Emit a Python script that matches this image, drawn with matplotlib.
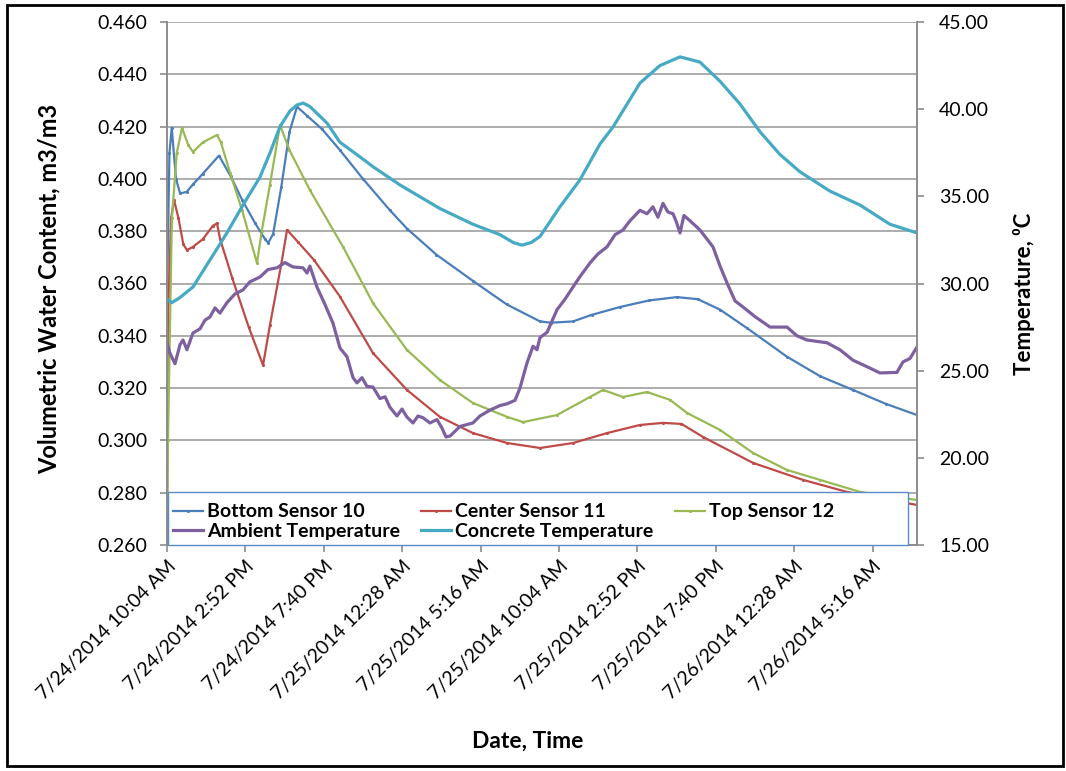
import matplotlib
matplotlib.use('Agg')
import matplotlib.pyplot as plt
import matplotlib.patches as patches
from matplotlib.ticker import FormatStrFormatter, MultipleLocator
from datetime import datetime, timedelta
import numpy as np

plt.rcParams['font.family'] = ['Lato', 'DejaVu Sans']

start = datetime(2014, 7, 24, 10, 4)

# elapsed hours since start / sensor readings (m3/m3)
bottom_h = [0, 0.15, 0.29, 0.55, 0.8, 1.2, 1.6, 2.2, 3.18, 3.9, 4.6, 5.4, 6.0, 6.2, 6.5, 7.0, 7.5, 7.96,
            8.6, 9.5, 10.59, 12.0, 13.65, 14.69, 16.5, 18.73, 20.8, 22.84, 23.5, 24.86, 26.0, 27.73,
            29.5, 31.22, 32.5, 33.86, 35.5, 37.96, 40.0, 42.0, 44.0, 45.92]
bottom_v = [0.355, 0.410, 0.4195, 0.400, 0.3945, 0.395, 0.398, 0.402, 0.4089, 0.401, 0.392, 0.383, 0.377,
            0.3755, 0.379, 0.397, 0.418, 0.4276, 0.424, 0.419, 0.411, 0.400, 0.388, 0.381, 0.371, 0.361,
            0.352, 0.3455, 0.345, 0.3455, 0.348, 0.351, 0.3535, 0.3548, 0.354, 0.350, 0.343, 0.332,
            0.3245, 0.3193, 0.314, 0.3097]

center_h = [0, 0.06, 0.25, 0.43, 0.7, 1.0, 1.22, 1.59, 2.2, 2.8, 3.06, 3.25, 4.0, 5.0, 5.88, 6.3, 7.0,
            7.35, 8.0, 9.0, 10.59, 12.61, 14.69, 16.71, 18.73, 20.82, 22.84, 24.86, 26.94, 28.96,
            30.37, 31.5, 32.82, 35.88, 38.94, 41.63, 45.92]
center_v = [0.262, 0.346, 0.385, 0.392, 0.385, 0.375, 0.3728, 0.374, 0.377, 0.382, 0.383, 0.377, 0.362,
            0.3434, 0.3288, 0.344, 0.3675, 0.3805, 0.376, 0.369, 0.355, 0.3334, 0.3193, 0.309, 0.3028,
            0.299, 0.2971, 0.299, 0.3028, 0.3059, 0.3067, 0.3063, 0.3013, 0.2914, 0.2849, 0.2803, 0.2753]

top_h = [0, 0.06, 0.3, 0.6, 0.92, 1.3, 1.59, 2.2, 3.06, 3.3, 3.86, 4.6, 5.51, 5.8, 6.3, 6.92, 7.5, 8.75,
         10.78, 12.61, 14.69, 16.71, 18.73, 20.82, 21.8, 23.88, 25.9, 26.69, 27.92, 29.39, 30.8, 31.84,
         33.86, 35.88, 37.96, 39.98, 42.43, 45.92]
top_v = [0.262, 0.300, 0.385, 0.410, 0.4195, 0.413, 0.4103, 0.414, 0.4168, 0.414, 0.4023, 0.388, 0.3678,
         0.380, 0.3977, 0.4206, 0.411, 0.3957, 0.374, 0.3525, 0.3346, 0.3231, 0.3143, 0.309, 0.307,
         0.3097, 0.3166, 0.3193, 0.3166, 0.3185, 0.3155, 0.3105, 0.304, 0.2952, 0.2887, 0.2849, 0.2803,
         0.2772]

# temperatures (deg C)
ambient_h = [0, 0.18, 0.49, 0.80, 0.98, 1.22, 1.59, 2.02, 2.33, 2.63, 2.94, 3.24, 3.67, 4.16, 4.65, 5.08,
             5.69, 6.18, 6.73, 7.22, 7.71, 8.33, 8.57, 8.75, 9.18, 9.67, 10.16, 10.59, 11.02, 11.39,
             11.63, 11.94, 12.24, 12.61, 13.04, 13.35, 13.65, 14.08, 14.39, 14.69, 15.06, 15.37, 15.67,
             16.10, 16.53, 16.84, 17.08, 17.33, 17.94, 18.73, 19.16, 19.78, 20.39, 20.82, 21.31, 21.61,
             22.04, 22.41, 22.65, 22.84, 23.27, 23.88, 24.37, 24.86, 25.29, 25.90, 26.39, 26.94, 27.43,
             27.92, 28.35, 28.96, 29.39, 29.75, 30.06, 30.37, 30.67, 30.98, 31.16, 31.41, 31.65, 32.02,
             32.63, 33.43, 33.86, 34.29, 34.78, 35.27, 36.00, 36.92, 37.96, 38.57, 39.18, 40.41, 41.20,
             42.00, 42.92, 43.65, 44.69, 45.06, 45.49, 45.92]
ambient_t = [26.6, 26.0, 25.4, 26.5, 26.76, 26.2, 27.16, 27.4, 27.9, 28.08, 28.6, 28.3, 28.9, 29.4, 29.63,
             30.1, 30.37, 30.8, 30.9, 31.2, 30.95, 30.9, 30.6, 31.0, 29.8, 28.8, 27.73, 26.3, 25.8, 24.6,
             24.3, 24.6, 24.1, 24.06, 23.4, 23.5, 22.9, 22.4, 22.8, 22.34, 22.0, 22.4, 22.3, 22.0, 22.2,
             21.7, 21.2, 21.25, 21.8, 22.0, 22.4, 22.74, 23.0, 23.1, 23.3, 24.0, 25.44, 26.4, 26.2, 26.9,
             27.2, 28.5, 29.1, 29.8, 30.4, 31.18, 31.7, 32.1, 32.8, 33.07, 33.6, 34.2, 34.0, 34.4, 33.8,
             34.6, 34.1, 34.0, 33.6, 32.9, 33.9, 33.6, 33.07, 32.1, 31.0, 30.03, 29.0, 28.65, 28.1, 27.5,
             27.5, 27.0, 26.76, 26.6, 26.2, 25.6, 25.2, 24.87, 24.9, 25.5, 25.7, 26.36]

concrete_h = [0, 0.3, 0.8, 1.59, 2.63, 3.67, 4.65, 5.69, 6.31, 6.92, 7.53, 7.96, 8.33, 8.75, 9.8, 10.59,
              11.82, 12.61, 14.27, 16.71, 18.73, 20.39, 21.2, 21.73, 22.3, 22.84, 24.06, 25.28, 26.51,
              27.31, 28.96, 30.18, 31.41, 32.63, 33.86, 35.08, 36.31, 37.53, 38.76, 40.59, 42.43, 44.26,
              45.92]
concrete_t = [29.1, 28.9, 29.2, 29.8, 31.35, 32.9, 34.5, 36.1, 37.5, 39.0, 39.9, 40.24, 40.35, 40.15, 39.2,
              38.1, 37.26, 36.7, 35.65, 34.3, 33.4, 32.8, 32.35, 32.2, 32.35, 32.7, 34.4, 35.94, 38.0,
              38.98, 41.5, 42.5, 43.0, 42.7, 41.6, 40.3, 38.7, 37.4, 36.4, 35.3, 34.5, 33.4, 32.9]

tick_hours = np.arange(0, 46, 4.8)


def fmt_time(h):
    d = start + timedelta(hours=float(h))
    hr = d.hour % 12 or 12
    ampm = 'AM' if d.hour < 12 else 'PM'
    return f'{d.month}/{d.day}/{d.year} {hr}:{d.minute:02d} {ampm}'


fig = plt.figure(figsize=(10.66, 7.71), dpi=100)
ax = fig.add_axes([167 / 1066, 1 - 545 / 771, 750 / 1066, 523 / 771])
ax2 = ax.twinx()

grey = '#8C8C8C'
l_bot, = ax.plot(bottom_h, bottom_v, color='#4A7EBB', lw=1.6, marker='.', ms=2.5, label='Bottom Sensor 10')
l_cen, = ax.plot(center_h, center_v, color='#BE4B48', lw=1.6, marker='.', ms=2.5, label='Center Sensor 11')
l_top, = ax.plot(top_h, top_v, color='#98B954', lw=1.6, marker='.', ms=2.5, label='Top Sensor 12')
l_amb, = ax2.plot(ambient_h, ambient_t, color='#7D60A0', lw=2.3, label='Ambient Temperature')
l_con, = ax2.plot(concrete_h, concrete_t, color='#46AAC5', lw=2.3, label='Concrete Temperature')

ax.set_xlim(0, 45.92)
ax.set_ylim(0.26, 0.46)
ax.yaxis.set_major_locator(MultipleLocator(0.02))
ax.yaxis.set_major_formatter(FormatStrFormatter('%.3f'))
ax2.set_ylim(15, 45)
ax2.yaxis.set_major_locator(MultipleLocator(5))
ax2.yaxis.set_major_formatter(FormatStrFormatter('%.2f'))

ax.set_xticks(tick_hours)
ax.set_xticklabels([fmt_time(h) for h in tick_hours], rotation=45, ha='right',
                   rotation_mode='anchor', fontsize=14)

ax.yaxis.grid(True, color='#A6A6A6', lw=1.3)
ax.set_axisbelow(True)

for a in (ax, ax2):
    a.spines['top'].set_visible(False)
    for s in ('left', 'right', 'bottom'):
        a.spines[s].set_color(grey)
        a.spines[s].set_linewidth(1.2)
    a.tick_params(axis='both', direction='out', length=5, width=1.2, color=grey, labelsize=14,
                  labelcolor='black')
ax.tick_params(axis='x', pad=4)
ax.tick_params(axis='y', pad=9)
ax2.tick_params(axis='y', pad=11)

ax.set_ylabel('Volumetric Water Content, m3/m3', fontsize=17, fontweight='bold')
ax.yaxis.set_label_coords(-0.142, 0.49)
ax2.set_ylabel('Temperature, ⁰C', fontsize=16, fontweight='bold')
ax2.yaxis.set_label_coords(1.128, 0.48)
ax.set_xlabel('Date, Time', fontsize=16.5, fontweight='bold')
ax.xaxis.set_label_coords(0.481, -0.356)

# legend box drawn separately so it spans the plot width
box = patches.Rectangle((0.0013, 0.0), 0.987, 0.1013, transform=ax2.transAxes, fc='white',
                        ec='#5B8BC9', lw=1.0, zorder=9, clip_on=False)
ax2.add_patch(box)
handles = [l_bot, l_amb, l_cen, l_con, l_top]
leg = ax2.legend(handles=handles, labels=[h.get_label() for h in handles], ncol=3,
                 loc='upper left', bbox_to_anchor=(0.0013, 0.089), borderaxespad=0,
                 frameon=False, prop={'size': 14, 'weight': 'bold'}, handlelength=1.55,
                 handletextpad=0.2, labelspacing=0.15, borderpad=0.25, columnspacing=1.1)
leg.set_zorder(10)

# outer frame around the whole chart
fig.patches.append(patches.Rectangle((7 / 1066, 1 - 766 / 771), 1056 / 1066, 761 / 771,
                                     transform=fig.transFigure, fill=False, ec='black', lw=2))

fig.savefig('out.png', dpi=100)
